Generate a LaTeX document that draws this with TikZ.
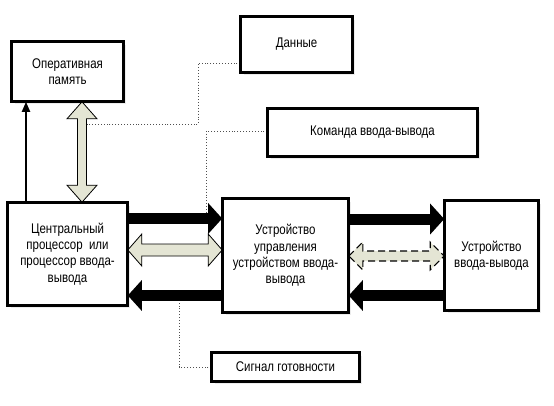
\documentclass[tikz,border=0pt]{standalone}
\usepackage{fontspec}
\setmainfont[FakeStretch=0.82]{Liberation Sans}
\usetikzlibrary{arrows.meta,calc,shadows}
\definecolor{arrowfill}{RGB}{228,229,212}
\definecolor{dotgray}{RGB}{80,80,80}
\tikzset{
  box/.style={draw=black, line width=1.6pt, fill=white, inner sep=0pt, align=center,
    font=\fontsize{14}{16.3}\selectfont,
    drop shadow={shadow xshift=2.5pt, shadow yshift=-2.5pt, fill=black!15}},
  hollow/.style={draw=black, line width=0.8pt, fill=arrowfill, line join=miter},
  blackarrow/.style={line width=11pt, -{Triangle[length=14pt,width=30pt]}},
  thinarrow/.style={line width=2pt, -{Triangle[length=10pt,width=8pt]}},
  dotline/.style={draw=dotgray, line width=0.9pt, dotted}
}
% horizontal double arrow: #2 left tip, #3 right tip, #4 shaft half, #5 head half
\newcommand\dblH[5][]{\draw[hollow,#1] let \p1=(#2), \p2=(#3) in
  (\x1,\y1) -- (\x1+14pt,\y1+#5) -- (\x1+14pt,\y1+#4) -- (\x2-14pt,\y1+#4) -- (\x2-14pt,\y1+#5)
  -- (\x2,\y1) -- (\x2-14pt,\y1-#5) -- (\x2-14pt,\y1-#4) -- (\x1+14pt,\y1-#4) -- (\x1+14pt,\y1-#5) -- cycle;}
% vertical double arrow: #2 top tip, #3 bottom tip
\newcommand\dblV[5][]{\draw[hollow,#1] let \p1=(#2), \p2=(#3) in
  (\x1,\y1) -- (\x1+#5,\y1-17pt) -- (\x1+#4,\y1-17pt) -- (\x1+#4,\y2+17pt) -- (\x1+#5,\y2+17pt)
  -- (\x1,\y2) -- (\x1-#5,\y2+17pt) -- (\x1-#4,\y2+17pt) -- (\x1-#4,\y1-17pt) -- (\x1-#5,\y1-17pt) -- cycle;}
\begin{document}
\begin{tikzpicture}[x=1pt,y=-1pt]
\useasboundingbox (0,0) rectangle (554,405);

% nodes
\node[box, minimum width=111pt, minimum height=59pt] (mem) at (67.5,71.5) {Оперативная\\память};
\node[box, minimum width=111pt, minimum height=55pt] (data) at (296.5,44.5) {Данные};
\node[box, minimum width=209pt, minimum height=47pt] (cmd) at (372.5,132.5) {Команда ввода-вывода};
\node[box, minimum width=119pt, minimum height=102pt] (cpu) at (67.5,254) {Центральный\\процессор\ \ или\\процессор ввода-\\вывода};
\node[box, minimum width=125pt, minimum height=113pt] (uu) at (285.5,255.5) {Устройство\\управления\\устройством ввода-\\вывода};
\node[box, minimum width=93pt, minimum height=109pt] (io) at (491.5,255.5) {Устройство\\ввода-вывода};
\node[box, minimum width=147pt, minimum height=28pt] (sig) at (285.5,367) {Сигнал готовности};

% dotted leaders
\coordinate (d1) at (198,63);
\coordinate (d2) at (198,124.5);
\coordinate (dEnd) at (87,124.5);
\draw[dotline] (data.west |- d1) -- (d1) -- (d2) -- (dEnd);
\coordinate (c1) at (206,131);
\coordinate (cEnd) at (206,213);
\draw[dotline] (cmd.west |- c1) -- (c1) -- (cEnd);
\coordinate (s1) at (179,367);
\coordinate (sEnd) at (179,301);
\draw[dotline] (sig.west) -- (s1) -- (sEnd);

% thin arrow CPU -> memory
\draw[thinarrow] (cpu.north -| 26,0) -- (mem.south -| 26,0);

% vertical hollow double arrow memory <-> CPU
\dblV{mem.south -| 82,0}{cpu.north -| 82,0}{4.5pt}{15pt}

% CPU <-> UU
\draw[blackarrow] (cpu.east |- 0,218.5) -- (uu.west |- 0,218.5);
\dblH{cpu.east |- 0,250}{uu.west |- 0,250}{6pt}{16pt}
\draw[blackarrow] (uu.west |- 0,295.5) -- (cpu.east |- 0,295.5);

% UU <-> IO
\draw[blackarrow] (uu.east |- 0,219) -- (io.west |- 0,219);
\dblH[line width=1.1pt, dash pattern=on 7pt off 4pt]{uu.east |- 0,256}{io.west |- 0,256}{5pt}{14pt}
\draw[blackarrow] (io.west |- 0,295.5) -- (uu.east |- 0,295.5);

% redraw box borders on top
\foreach \n in {mem,data,cmd,cpu,uu,io,sig}{\draw[line width=1.6pt] (\n.south west) rectangle (\n.north east);}
\end{tikzpicture}
\end{document}
